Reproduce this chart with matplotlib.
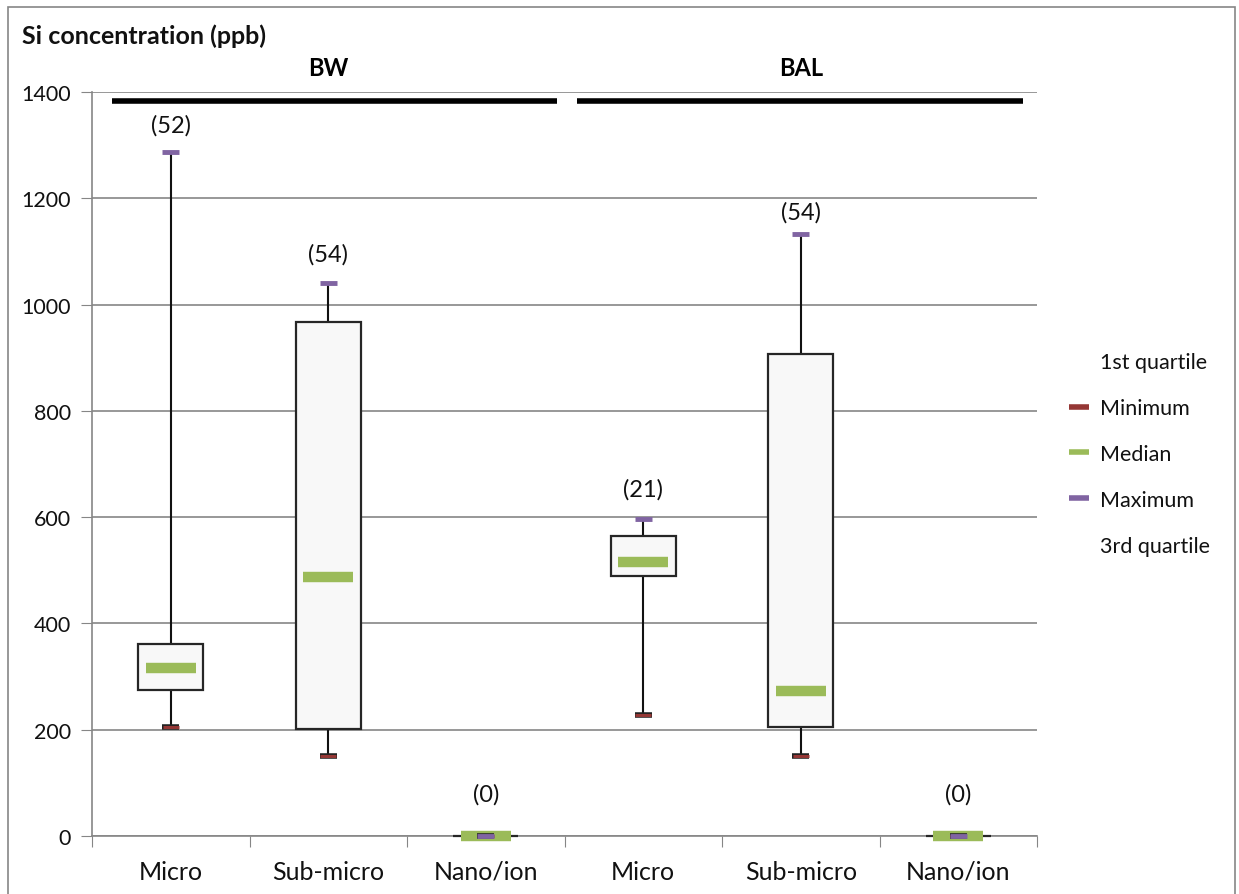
import matplotlib.pyplot as plt
from matplotlib.lines import Line2D
from matplotlib.patches import Rectangle

# Дані
categories = ["Micro", "Sub-micro", "Nano/ion", "Micro", "Sub-micro", "Nano/ion"]
groups = ["BW", "BAL"]
minimum = [206, 151, 0, 228, 150, 0]
q1 = [274, 201, 0, 489, 205, 0]
median = [316, 487, 0, 515, 273, 0]
q3 = [361, 967, 0, 565, 907, 0]
maximum = [1287, 1041, 0, 596, 1133, 0]
counts = ["(52)", "(54)", "(0)", "(21)", "(54)", "(0)"]
label_y = [1338, 1095, 79, 653, 1174, 79]

plt.rcParams['font.family'] = ['Lato', 'DejaVu Sans']

c_min = '#953735'
c_med = '#9BBB59'
c_max = '#8064A2'
c_grid = '#868686'


def main():
    fig = plt.figure(figsize=(12.39, 8.95), dpi=100)
    ax = fig.add_axes([92 / 1239, 1 - 837 / 895, (1037 - 92) / 1239, (837 - 93) / 895])

    # Рамка навколо всього графіка
    fig.patches.append(Rectangle((8 / 1239, -0.05), (1235 - 8) / 1239, 1.05 - 8 / 895,
                                 transform=fig.transFigure, fill=False,
                                 edgecolor=c_grid, linewidth=1.2))

    x = list(range(len(categories)))
    bw = 0.41
    for i in x:
        # вуса
        ax.plot([i, i], [q3[i], maximum[i]], color='#111111', lw=1.5, zorder=2)
        ax.plot([i, i], [minimum[i], q1[i]], color='#111111', lw=1.5, zorder=2)
        # коробка
        ax.add_patch(Rectangle((i - bw / 2, q1[i]), bw, q3[i] - q1[i], clip_on=False,
                               facecolor='#F8F8F8', edgecolor='#262626', lw=1.6, zorder=3))
        # медіана, мінімум, максимум
        ax.hlines(median[i], i - 0.16, i + 0.16, color=c_med, lw=7.5, zorder=4, clip_on=False)
        ax.hlines(minimum[i], i - 0.055, i + 0.055, color='#222222', lw=4, zorder=5, clip_on=False)
        ax.hlines(minimum[i], i - 0.05, i + 0.05, color=c_min, lw=2.2, zorder=6, clip_on=False)
        ax.hlines(maximum[i], i - 0.055, i + 0.055, color=c_max, lw=3.5, zorder=7, clip_on=False)
        ax.text(i, label_y[i], counts[i], ha='center', va='center', fontsize=17, color='#111111')

    # Горизонтальні смуги груп
    ax.hlines(1383, -0.37, 2.45, color='black', lw=4, zorder=5)
    ax.hlines(1383, 2.58, 5.41, color='black', lw=4, zorder=5)
    for k, g in enumerate(groups):
        ax.text(1 + 3 * k, 1425, g, ha='center', va='bottom', fontsize=17,
                fontweight='bold', clip_on=False)

    ax.set_xlim(-0.5, len(categories) - 0.5)
    ax.set_ylim(0, 1400)
    ax.set_yticks(range(0, 1401, 200))
    ax.tick_params(axis='y', labelsize=15.5, length=8, color=c_grid, pad=7, labelcolor='#111111')
    ax.set_xticks([i + 0.5 for i in range(-1, len(categories))])
    ax.set_xticklabels([])
    ax.set_xticks(x, minor=True)
    ax.set_xticklabels(categories, minor=True, fontsize=18, color='#111111')
    ax.tick_params(axis='x', which='major', length=8, color=c_grid)
    ax.tick_params(axis='x', which='minor', length=0, pad=17)
    ax.grid(axis='y', color=c_grid, lw=1.2)
    ax.set_axisbelow(True)
    for s in ['top', 'right']:
        ax.spines[s].set_visible(False)
    ax.spines['left'].set_color(c_grid)
    ax.spines['bottom'].set_color(c_grid)
    ax.spines['left'].set_linewidth(1.2)
    ax.spines['bottom'].set_linewidth(1.2)

    fig.text(22 / 1239, 1 - 36 / 895, "Si concentration (ppb)", ha='left', va='center',
             fontsize=18, fontweight='bold', color='#111111')

    # Легенда
    handles = [
        Line2D([], [], color='none'),
        Line2D([], [], color=c_min, lw=4, solid_capstyle='butt'),
        Line2D([], [], color=c_med, lw=4, solid_capstyle='butt'),
        Line2D([], [], color=c_max, lw=4, solid_capstyle='butt'),
        Line2D([], [], color='none'),
    ]
    labels = ["1st quartile", "Minimum", "Median", "Maximum", "3rd quartile"]
    fig.legend(handles, labels, loc='center left', bbox_to_anchor=(1050 / 1239, 1 - 455 / 895),
               frameon=False, fontsize=15.5, handlelength=0.9, handletextpad=0.5,
               labelspacing=1.2, labelcolor='#111111')

    fig.savefig("out.png", dpi=100)


if __name__ == "__main__":
    main()
